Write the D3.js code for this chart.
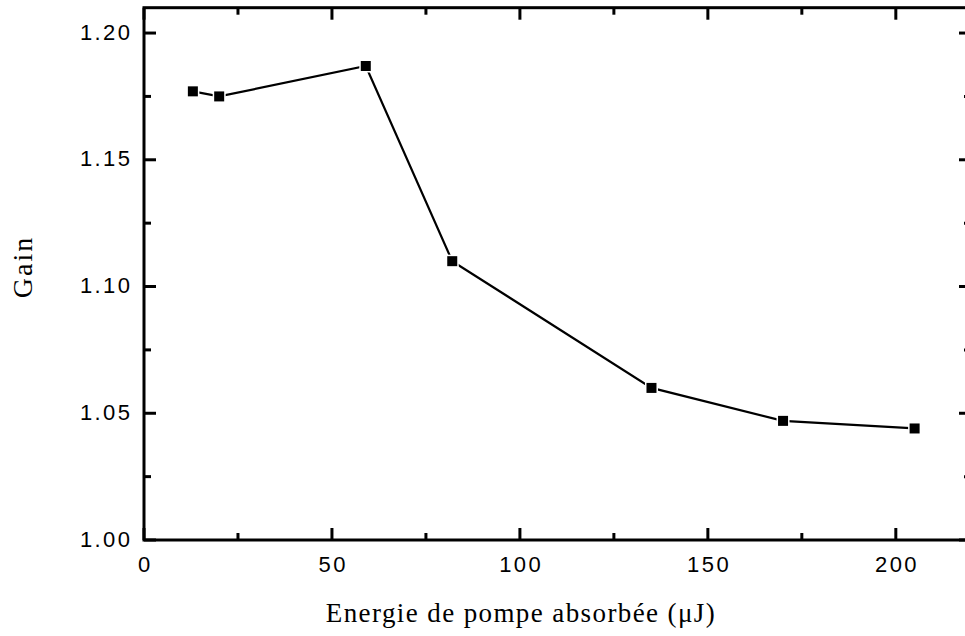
<!DOCTYPE html>
<html><head><meta charset="utf-8">
<script src="https://cdn.jsdelivr.net/npm/d3@7"></script>
<style>body{margin:0;background:#fff}svg{display:block}</style>
</head><body>
<script>
const energy = [13, 20, 59, 82, 135, 170, 205];
const gain = [1.177, 1.175, 1.187, 1.110, 1.060, 1.047, 1.044];
const xTicks = [0, 50, 100, 150, 200];
const yTicks = [1.00, 1.05, 1.10, 1.15, 1.20];
const xMinor = [25, 75, 125, 175];
const yMinor = [1.025, 1.075, 1.125, 1.175];
const xTitle = "Energie de pompe absorbée (\u03bcJ)";
const yTitle = "Gain";

const W = 965, H = 636;
const svg = d3.select("body").append("svg").attr("width", W).attr("height", H);
const x = d3.scaleLinear().domain([0, 220]).range([144, 971]);
const y = d3.scaleLinear().domain([1.00, 1.21]).range([540, 7.7]);

const g = svg.append("g");
const sw = 3;
g.append("rect").attr("x", x(0)).attr("y", y(1.21)).attr("width", x(220) - x(0)).attr("height", y(1.0) - y(1.21))
  .attr("fill", "none").attr("stroke", "#000").attr("stroke-width", sw);

function ticks(vals, len, side) {
  vals.forEach(v => {
    let x1, y1, x2, y2;
    if (side === "bottom") { x1 = x2 = x(v); y1 = y(1.0); y2 = y1 - len; }
    if (side === "top") { x1 = x2 = x(v); y1 = y(1.21); y2 = y1 + len; }
    if (side === "left") { y1 = y2 = y(v); x1 = x(0); x2 = x1 + len; }
    if (side === "right") { y1 = y2 = y(v); x1 = x(220); x2 = x1 - len; }
    g.append("line").attr("x1", x1).attr("y1", y1).attr("x2", x2).attr("y2", y2)
      .attr("stroke", "#000").attr("stroke-width", sw);
  });
}
ticks(xTicks, 12, "bottom"); ticks(xTicks, 12, "top");
ticks(xMinor, 7, "bottom"); ticks(xMinor, 7, "top");
ticks(yTicks, 12, "left"); ticks(yTicks, 12, "right");
ticks(yMinor, 7, "left"); ticks(yMinor, 7, "right");

const ls = 2.4;
g.selectAll(".xl").data(xTicks).enter().append("text")
  .attr("x", d => x(d) + ls / 2).attr("y", 572).attr("text-anchor", "middle")
  .attr("font-family", "Liberation Sans, Arial, sans-serif").attr("font-size", 22)
  .attr("letter-spacing", ls)
  .text(d => d3.format("d")(d));
g.selectAll(".yl").data(yTicks).enter().append("text")
  .attr("x", 130 + ls).attr("y", d => y(d) + 6.5).attr("text-anchor", "end")
  .attr("font-family", "Liberation Sans, Arial, sans-serif").attr("font-size", 22)
  .attr("letter-spacing", ls)
  .text(d => d3.format(".2f")(d));

g.append("text").attr("x", 521).attr("y", 622).attr("text-anchor", "middle")
  .attr("font-family", "Liberation Serif, Times New Roman, serif").attr("font-size", 27)
  .attr("letter-spacing", 1.4)
  .text(xTitle);
g.append("text").attr("transform", "translate(32,268) rotate(-90)").attr("text-anchor", "middle")
  .attr("font-family", "Liberation Serif, Times New Roman, serif").attr("font-size", 28)
  .attr("letter-spacing", 2).attr("dx", 1)
  .text(yTitle);

const pts = energy.map((e, i) => [e, gain[i]]);
g.append("path").datum(pts)
  .attr("d", d3.line().x(d => x(d[0])).y(d => y(d[1])))
  .attr("fill", "none").attr("stroke", "#000").attr("stroke-width", 2.2);
const s = 10;
g.selectAll(".m").data(pts).enter().append("rect")
  .attr("x", d => x(d[0]) - s / 2).attr("y", d => y(d[1]) - s / 2)
  .attr("width", s).attr("height", s)
  .attr("fill", "#000").attr("stroke", "#fff").attr("stroke-width", 3).attr("paint-order", "stroke");
</script>
</body></html>
